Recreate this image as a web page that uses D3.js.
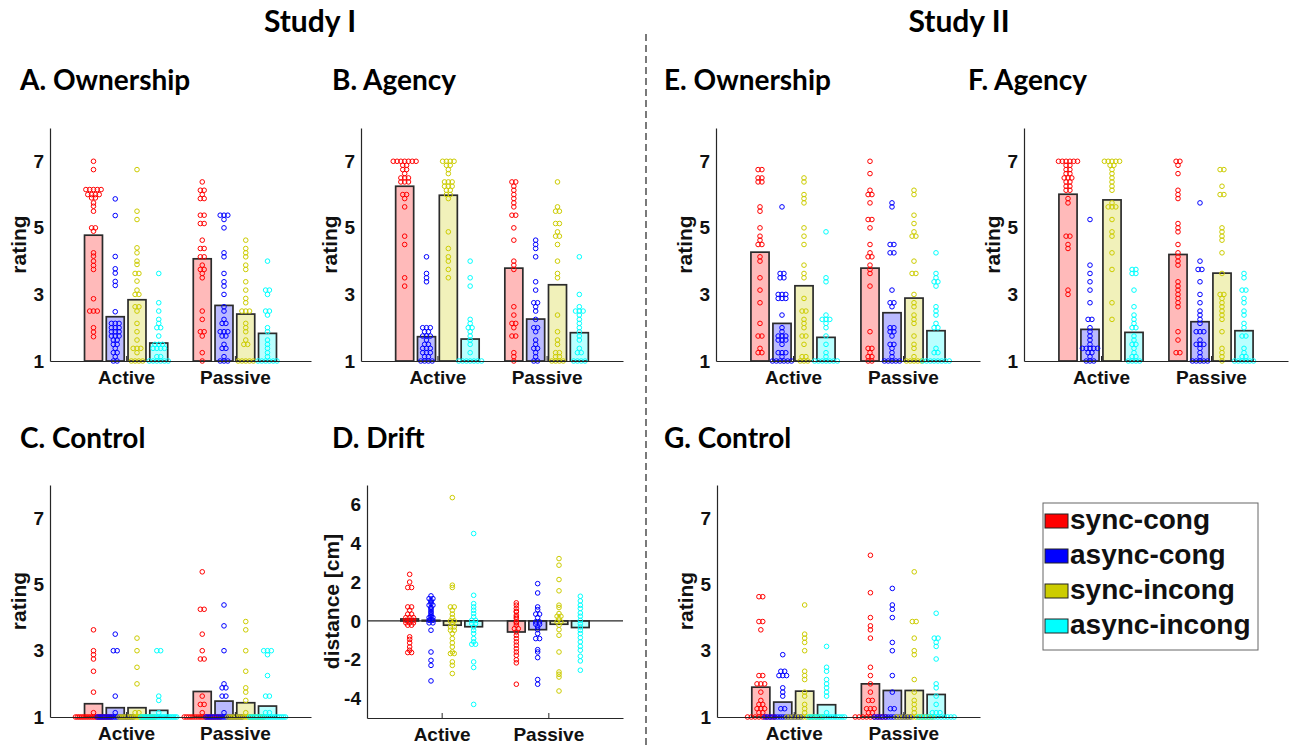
<!DOCTYPE html>
<html>
<head>
<meta charset="utf-8">
<script src="https://cdn.jsdelivr.net/npm/d3@7"></script>
<style>
  body { margin: 0; background: #fff; }
  svg { display: block; }
</style>
</head>
<body>
<div id="chart"></div>
<script>
// ---- data ----
const groupNames = ["Active", "Passive"];
const condNames = ["sync-cong", "async-cong", "sync-incong", "async-incong"];
const condColors = ["#ff0000", "#0000ff", "#cccc00", "#00ffff"];

// A. Ownership (Study I)
const ownIMeans = [[4.78, 2.33, 2.84, 1.54], [4.07, 2.67, 2.41, 1.83]];
const ownIActive = [
  [7, 6.75, 6.15, 6.15, 6.15, 6.15, 6.15, 6, 6, 6, 6, 5.9, 5.9, 5.75, 5.65, 5.5, 5, 5, 4.9, 4.25, 4.15, 4, 3.87, 3.75, 2.87, 2.5, 2.5, 2.5, 2, 1.87, 1.73],
  [5.87, 5.37, 4.14, 3.77, 3.64, 3.39, 3.27, 2.48, 2.13, 2.13, 2.13, 2, 2, 2, 1.88, 1.88, 1.88, 1.75, 1.75, 1.75, 1.63, 1.63, 1.5, 1.5, 1.38, 1.25, 1.25, 1.13, 1, 1],
  [6.75, 5.5, 5.25, 4.4, 4.25, 4, 3.9, 3.63, 3.63, 3.4, 3.13, 3, 3, 2.63, 2.63, 2.5, 2.13, 1.88, 1.63, 1.38, 1.38, 1.38, 1.25, 1, 1, 1, 1],
  [3.63, 2.75, 2.5, 2.25, 2.13, 2, 2, 1.75, 1.5, 1.5, 1.5, 1.38, 1.38, 1.38, 1.38, 1.13, 1.13, 1, 1, 1, 1, 1, 1]
];
const ownIPassive = [
  [6.38, 6.13, 6.13, 6, 5.88, 5.88, 5.38, 5.38, 5.13, 5.13, 4.63, 4.38, 4.38, 4.13, 4.13, 3.88, 3.75, 3.75, 3.63, 3.5, 2.5, 2.25, 1.88, 1.88, 1.75, 1.25, 1],
  [5.38, 5.38, 5.38, 5.25, 5, 4.25, 4.13, 3.63, 3.38, 3.25, 3, 2.63, 2.5, 2.25, 2.13, 2.13, 1.88, 1.88, 1.88, 1.75, 1.75, 1.5, 1.38, 1.38, 1.13, 1, 1, 1],
  [4.63, 4.38, 4.25, 4.13, 3.88, 3.75, 3.38, 3.13, 2.88, 2.75, 2.5, 2.5, 2.5, 2.13, 2, 1.88, 1.63, 1.5, 1.5, 1, 1, 1, 1, 1],
  [4, 3.13, 3.13, 3, 2.5, 2.5, 2.38, 2, 1.88, 1.63, 1.5, 1.38, 1.25, 1.13, 1, 1, 1, 1, 1, 1]
];

// B. Agency (Study I)
const agencyIMeans = [[6.25, 1.73, 5.98, 1.66], [3.79, 2.26, 3.29, 1.85]];
const agencyIActive = [
  [7, 7, 7, 7, 7, 7, 7, 6.88, 6.88, 6.75, 6.75, 6.63, 6.5, 6.5, 6.5, 6.38, 6.38, 6.38, 6, 6, 5.88, 5.63, 4.75, 4.5, 3.5, 3.25],
  [4.13, 3.63, 3.5, 3.38, 2, 2, 2, 1.88, 1.88, 1.75, 1.75, 1.75, 1.63, 1.5, 1.5, 1.38, 1.38, 1.38, 1.25, 1.25, 1.25, 1.13, 1.13, 1, 1, 1, 1],
  [7, 7, 7, 7, 6.88, 6.88, 6.75, 6.63, 6.38, 6.38, 6.38, 6.25, 6.25, 6.25, 6.13, 6.13, 6, 6, 5.88, 4.88, 4.38, 4.13, 4, 3.75, 3.5],
  [4, 3.5, 3.25, 2.25, 2.13, 2, 2, 1.88, 1.75, 1.63, 1.5, 1.25, 1, 1, 1, 1, 1, 1, 1]
];
const agencyIPassive = [
  [6.38, 6.38, 6.25, 6.13, 6, 5.88, 5.75, 5.63, 5.38, 5.38, 5, 4.63, 4, 3.88, 3.75, 2.63, 2.38, 2.13, 2.13, 2, 1.75, 1.75, 1.25, 1.13, 1],
  [4.63, 4.5, 4.38, 4.13, 3.38, 3.13, 2.75, 2.75, 2.63, 2.5, 2.25, 2, 2, 1.88, 1.63, 1.5, 1.38, 1.38, 1.25, 1.13, 1, 1],
  [6.38, 5.63, 5.5, 5.5, 5.13, 5.13, 4.88, 4.75, 4.75, 4.5, 4, 3.63, 3.5, 2.38, 1.88, 1.63, 1.5, 1.25, 1.25, 1.13, 1.13, 1, 1, 1, 1],
  [4.13, 3, 2.63, 2.5, 2.5, 2.5, 2.38, 2.25, 2.13, 2, 1.88, 1.75, 1.63, 1.38, 1.25, 1.25, 1, 1, 1, 1]
];

// C. Control (Study I)
const controlIMeans = [[1.4, 1.28, 1.28, 1.2], [1.77, 1.48, 1.43, 1.33]];
const controlIActive = [
  [3.63, 3, 2.88, 2.75, 2.38, 1.75, 1.13, 1, 1, 1, 1, 1, 1, 1, 1, 1, 1, 1, 1, 1, 1, 1, 1, 1, 1, 1, 1],
  [3.5, 3, 3, 1.63, 1.13, 1, 1, 1, 1, 1, 1, 1, 1, 1, 1, 1, 1, 1, 1, 1, 1, 1, 1, 1, 1, 1],
  [3.38, 3, 2.5, 2, 1.13, 1.13, 1, 1, 1, 1, 1, 1, 1, 1, 1, 1, 1, 1, 1, 1, 1, 1, 1, 1, 1, 1],
  [3, 3, 1.63, 1.5, 1.13, 1, 1, 1, 1, 1, 1, 1, 1, 1, 1, 1, 1, 1, 1, 1, 1, 1, 1, 1, 1, 1, 1]
];
const controlIPassive = [
  [5.38, 4.25, 4.25, 3.5, 3, 2.75, 2.75, 1.63, 1.38, 1.38, 1.13, 1, 1, 1, 1, 1, 1, 1, 1, 1, 1, 1, 1, 1, 1, 1, 1, 1],
  [4.38, 3.75, 3, 2, 1.88, 1.88, 1.63, 1.63, 1.13, 1, 1, 1, 1, 1, 1, 1, 1, 1, 1, 1, 1, 1, 1, 1, 1, 1, 1],
  [3.88, 3.63, 3, 2.38, 1.88, 1.75, 1.5, 1.13, 1, 1, 1, 1, 1, 1, 1, 1, 1, 1, 1, 1, 1, 1, 1, 1, 1, 1, 1],
  [3, 3, 3, 2.88, 2.25, 1.63, 1.63, 1.13, 1.13, 1, 1, 1, 1, 1, 1, 1, 1, 1, 1, 1, 1, 1, 1, 1, 1, 1, 1, 1]
];

// D. Drift (Study I), cm
const driftIMeans = [[0.1, 0.03, -0.22, -0.3], [-0.57, -0.45, -0.17, -0.34]];
const driftIActive = [
  [2.4, 2.0, 1.72, 1.72, 0.72, 0.72, 0.55, 0.35, 0.35, 0.17, 0.17, 0.17, 0.03, 0.03, 0.03, -0.1, -0.1, -0.1, -0.22, -0.22, -0.82, -0.95, -1.13, -1.34, -1.51, -1.63, -1.63],
  [1.29, 1.15, 1.15, 1.05, 0.98, 0.9, 0.81, 0.81, 0.7, 0.64, 0.55, 0.46, 0.38, 0.29, 0.22, 0.17, 0.17, 0.1, 0.03, 0.03, -0.1, -0.1, -0.48, -1.6, -2.03, -2.29, -3.09],
  [6.35, 1.84, 1.72, 0.72, 0.72, 0.55, 0.35, 0.17, 0, 0, -0.14, -0.31, -0.31, -0.48, -0.48, -0.65, -0.91, -1.13, -1.34, -1.6, -1.68, -1.68, -2.11, -2.29, -2.71],
  [4.5, 1.32, 0.89, 0.72, 0.55, 0.38, 0.21, 0.03, 0.03, -0.14, -0.14, -0.31, -0.48, -0.65, -0.91, -1.08, -1.2, -1.2, -2.11, -2.4, -4.3]
];
const driftIPassive = [
  [0.93, 0.81, 0.64, 0.5, 0.46, 0.29, 0.2, 0.12, -0.05, -0.1, -0.22, -0.4, -0.4, -0.57, -0.74, -0.91, -1.08, -1.25, -1.43, -1.6, -1.77, -2.0, -2.16, -3.26],
  [1.92, 1.44, 0.72, 0.58, 0.35, 0.35, 0.17, -0.05, -0.05, -0.17, -0.17, -0.31, -0.45, -0.65, -0.91, -0.91, -1.48, -1.6, -1.89, -3.02, -3.26],
  [3.21, 2.87, 2.13, 1.55, 0.81, 0.69, 0.38, 0.24, 0.24, 0.12, -0.05, -0.05, -0.22, -0.45, -0.74, -1.6, -2.63, -2.75, -2.89, -3.61],
  [1.27, 1.03, 0.81, 0.64, 0.41, 0.24, 0.03, -0.14, -0.31, -0.48, -0.65, -0.86, -1.08, -1.31, -1.51, -1.82, -2.06, -2.54]
];

// E. Ownership (Study II)
const ownIIMeans = [[4.27, 2.13, 3.26, 1.71], [3.79, 2.45, 2.89, 1.91]];
const ownIIActive = [
  [6.75, 6.75, 6.5, 6.5, 6.38, 6.38, 5.63, 5.5, 5, 4.75, 4.63, 4.5, 4.5, 4.13, 4, 3.5, 3.13, 2.75, 2.13, 1.75, 1.75, 1.38, 1.25, 1.25],
  [5.63, 3.63, 3.63, 3.5, 3.5, 3, 3, 3, 2.88, 2.88, 2.88, 2.38, 2, 1.88, 1.75, 1.75, 1.75, 1.63, 1.63, 1.63, 1.5, 1.25, 1.25, 1.25, 1.13, 1, 1, 1, 1, 1, 1],
  [6.5, 6.38, 6, 5.88, 5.75, 5, 4.75, 4.5, 3.88, 3.63, 3.5, 2.88, 2.5, 2.5, 2.25, 2.13, 2, 1.75, 1.75, 1.5, 1.13, 1.13, 1, 1, 1],
  [4.88, 3.5, 3.38, 2.38, 2.25, 2.25, 2.25, 2.13, 2, 1.75, 1.5, 1.25, 1.13, 1, 1, 1, 1, 1, 1, 1]
];
const ownIIPassive = [
  [7, 6.63, 6.13, 6, 6, 5.75, 5.25, 5.25, 5, 4.5, 4.25, 4.13, 4.13, 3.88, 3.75, 3.63, 3.25, 1.88, 1.38, 1.38, 1.25, 1.13, 1.13, 1, 1],
  [5.75, 5.63, 4.5, 4.5, 4.25, 4.25, 3.13, 2.75, 2.75, 2.63, 2, 2, 1.88, 1.88, 1.75, 1.5, 1.5, 1.38, 1.25, 1.13, 1, 1, 1, 1, 1],
  [6.13, 6, 5.38, 5.13, 4.88, 4.75, 4.75, 4, 3.63, 3.63, 3, 2.75, 2.63, 2.38, 2.25, 2.13, 1.75, 1.5, 1.38, 1.13, 1, 1, 1, 1, 1],
  [4.25, 3.63, 3.5, 3.38, 3.38, 3.25, 2.63, 2.5, 2.38, 2.13, 2, 2, 1.38, 1.25, 1.25, 1, 1, 1, 1, 1, 1, 1, 1]
];

// F. Agency (Study II)
const agencyIIMeans = [[6.01, 1.95, 5.84, 1.86], [4.2, 2.18, 3.64, 1.91]];
const agencyIIActive = [
  [7, 7, 7, 7, 7, 7, 6.88, 6.88, 6.75, 6.75, 6.63, 6.63, 6.5, 6.5, 6.5, 6.38, 6.38, 6.25, 6.25, 6.13, 6.13, 5.88, 5.75, 4.75, 4.75, 4.5, 4.38, 3.13, 3],
  [5.25, 3.88, 3.63, 3.38, 3.13, 2.75, 2.25, 2.25, 2, 1.88, 1.75, 1.63, 1.5, 1.38, 1.38, 1.38, 1.38, 1.38, 1.25, 1.25, 1.13, 1, 1, 1],
  [7, 7, 7, 7, 7, 6.88, 6.88, 6.75, 6.63, 6.5, 6.38, 6.25, 6.13, 5.75, 5.63, 5.63, 5.63, 5.25, 4.88, 4.75, 4.25, 3.75, 2.75, 2.25],
  [3.75, 3.75, 3.63, 3.63, 3.13, 2.63, 2.38, 2.25, 2.13, 2, 2, 1.75, 1.63, 1.5, 1.5, 1.38, 1.25, 1.13, 1.13, 1, 1, 1, 1]
];
const agencyIIPassive = [
  [7, 7, 6.88, 6.63, 6.13, 6, 5.88, 5.13, 5, 4.88, 4.5, 4.25, 4.13, 4, 3.88, 3.38, 3.25, 3.13, 3, 2.88, 2.75, 2.63, 1.88, 1.63, 1.25, 1.25],
  [5.75, 4, 3.75, 3.75, 3.38, 3, 2.75, 2.5, 2.38, 2.25, 2.13, 1.88, 1.88, 1.88, 1.63, 1.5, 1.5, 1.5, 1.38, 1.25, 1.13, 1, 1, 1, 1, 1],
  [6.75, 6.75, 6.25, 6, 6, 5, 4.88, 4.75, 4.63, 4.25, 3.63, 3, 3, 2.88, 2.75, 2.63, 2.5, 2.38, 2.25, 1.88, 1.38, 1.25, 1.13, 1],
  [3.63, 3.5, 3.13, 3.13, 2.88, 2.75, 2.5, 2.38, 2.13, 2, 1.75, 1.75, 1.38, 1.25, 1.13, 1.13, 1, 1, 1, 1, 1, 1]
];

// G. Control (Study II)
const controlIIMeans = [[1.9, 1.45, 1.78, 1.37], [2.0, 1.8, 1.8, 1.68]];
const controlIIActive = [
  [4.63, 4.63, 3.88, 3.88, 3.63, 2.25, 2.25, 2, 2, 2, 1.75, 1.5, 1.38, 1.38, 1.25, 1.25, 1.25, 1.13, 1.13, 1, 1, 1, 1, 1, 1, 1, 1],
  [2.88, 2.38, 2.38, 2.25, 2.25, 2.25, 1.88, 1.75, 1.63, 1.25, 1.25, 1, 1, 1, 1, 1, 1, 1, 1, 1, 1, 1, 1, 1, 1, 1],
  [4.38, 3.5, 3.38, 3.25, 3, 2.38, 2.25, 2.13, 1.75, 1.63, 1.38, 1.25, 1.13, 1, 1, 1, 1, 1, 1, 1, 1, 1, 1, 1, 1],
  [3.13, 2.5, 2.38, 2.13, 2, 1.88, 1.75, 1.63, 1.13, 1, 1, 1, 1, 1, 1, 1, 1, 1, 1, 1, 1, 1, 1, 1, 1]
];
const controlIIPassive = [
  [5.88, 4.75, 4, 3.75, 3.63, 3.38, 2.5, 2.25, 2, 1.75, 1.5, 1.5, 1.25, 1.25, 1.25, 1.13, 1.13, 1, 1, 1, 1, 1, 1, 1, 1, 1],
  [4.88, 4.38, 4.25, 4, 3.25, 3, 2.25, 1.75, 1.25, 1.25, 1, 1, 1, 1, 1, 1, 1, 1, 1, 1, 1, 1, 1, 1],
  [5.38, 3.88, 3.88, 3.38, 3, 2.88, 2.13, 1.75, 1.5, 1.38, 1.25, 1.13, 1, 1, 1, 1, 1, 1, 1, 1, 1, 1, 1, 1],
  [4.13, 3.38, 3.38, 3.25, 3.13, 2.75, 2, 1.88, 1.63, 1.38, 1.13, 1.13, 1.13, 1, 1, 1, 1, 1, 1, 1, 1, 1, 1, 1, 1]
];

const ratingTicks = [1, 3, 5, 7];
const driftTicks = [-4, -2, 0, 2, 4, 6];

// ---- layout ----
const width = 1292, height = 745;
const numFont = "'Liberation Sans', Arial, sans-serif";
const titleFont = "Lato, 'Open Sans', sans-serif";
const axisColor = "#262626";

const panels = [
  { title: "A. Ownership", tx: 20, ty: 90, left: 50, right: 311, top: 128, bottom: 361, domain: [1, 8], ticks: ratingTicks, ylab: "rating", means: ownIMeans, pts: [ownIActive, ownIPassive] },
  { title: "B. Agency", tx: 332, ty: 90, left: 361, right: 623, top: 128, bottom: 361, domain: [1, 8], ticks: ratingTicks, ylab: "rating", means: agencyIMeans, pts: [agencyIActive, agencyIPassive] },
  { title: "E. Ownership", tx: 664, ty: 90, left: 716, right: 980, top: 128, bottom: 361, domain: [1, 8], ticks: ratingTicks, ylab: "rating", means: ownIIMeans, pts: [ownIIActive, ownIIPassive] },
  { title: "F. Agency", tx: 968, ty: 90, left: 1024, right: 1288, top: 128, bottom: 361, domain: [1, 8], ticks: ratingTicks, ylab: "rating", means: agencyIIMeans, pts: [agencyIIActive, agencyIIPassive] },
  { title: "C. Control", tx: 20, ty: 448, left: 50, right: 311, top: 485, bottom: 717, domain: [1, 8], ticks: ratingTicks, ylab: "rating", means: controlIMeans, pts: [controlIActive, controlIPassive] },
  { title: "D. Drift", tx: 332, ty: 448, left: 367, right: 623, top: 485, bottom: 718, domain: [-5, 7], ticks: driftTicks, ylab: "distance [cm]", means: driftIMeans, pts: [driftIActive, driftIPassive], zero: true },
  { title: "G. Control", tx: 664, ty: 448, left: 717, right: 980, top: 485, bottom: 717, domain: [1, 8], ticks: ratingTicks, ylab: "rating", means: controlIIMeans, pts: [controlIIActive, controlIIPassive] }
];

const svg = d3.select("#chart").append("svg")
  .attr("width", width).attr("height", height)
  .attr("viewBox", [0, 0, width, height]);

// study headings + divider
svg.append("text").attr("x", 310).attr("y", 32).attr("text-anchor", "middle")
  .attr("font-family", titleFont).attr("font-weight", 700).attr("font-size", 30).text("Study I");
svg.append("text").attr("x", 959).attr("y", 32).attr("text-anchor", "middle")
  .attr("font-family", titleFont).attr("font-weight", 700).attr("font-size", 30).text("Study II");
svg.append("line").attr("x1", 646).attr("x2", 646).attr("y1", 34).attr("y2", 745)
  .attr("stroke", "#333").attr("stroke-width", 1.3).attr("stroke-dasharray", "7,4");

// spread points of equal value sideways, like plotSpread
function spread(vals, y, cx) {
  const out = [];
  d3.groups(vals, v => v).forEach(([v, arr]) => {
    const n = arr.length;
    const step = n > 1 ? Math.min(3.8, 36 / (n - 1)) : 0;
    arr.forEach((_, k) => out.push({ x: cx + (k - (n - 1) / 2) * step, y: y(v) }));
  });
  return out;
}

panels.forEach(p => {
  const g = svg.append("g");
  const x = d3.scaleLinear().domain([0.3, 2.7]).range([p.left, p.right]);
  const y = d3.scaleLinear().domain(p.domain).range([p.bottom, p.top]);
  const barW = x(0.165) - x(0);
  const off = i => (i - 1.5) * 0.2;
  const base = y(Math.max(0, p.domain[0]));

  // title
  g.append("text").attr("x", p.tx).attr("y", p.ty)
    .attr("font-family", titleFont).attr("font-weight", 700).attr("font-size", 28)
    .text(p.title);

  // zero line for drift panel
  if (p.zero) {
    g.append("line").attr("x1", p.left).attr("x2", p.right)
      .attr("y1", y(0)).attr("y2", y(0))
      .attr("stroke", axisColor).attr("stroke-width", 1.2);
  }

  // bars
  const bars = [];
  p.means.forEach((row, gi) => row.forEach((m, ci) => bars.push({ g: gi + 1, c: ci, m })));
  g.append("g").selectAll("rect").data(bars).join("rect")
    .attr("x", d => x(d.g + off(d.c)) - barW / 2)
    .attr("width", barW)
    .attr("y", d => Math.min(y(d.m), base))
    .attr("height", d => Math.abs(base - y(d.m)))
    .attr("fill", d => condColors[d.c]).attr("fill-opacity", 0.27)
    .attr("stroke", "#2b2b2b").attr("stroke-width", 1.7);

  // individual points
  p.pts.forEach((grp, gi) => {
    grp.forEach((vals, ci) => {
      const cx = x(gi + 1 + off(ci));
      g.append("g").selectAll("circle").data(spread(vals, y, cx)).join("circle")
        .attr("cx", d => d.x).attr("cy", d => d.y).attr("r", 2.3)
        .attr("fill", "none").attr("stroke", condColors[ci]).attr("stroke-width", 1);
    });
  });

  // axes
  const ya = g.append("g").attr("transform", `translate(${p.left},0)`)
    .call(d3.axisLeft(y).tickValues(p.ticks).tickFormat(d => String(d)).tickSize(0).tickPadding(6));
  ya.select(".domain").attr("stroke", axisColor).attr("stroke-width", 1.2);
  ya.selectAll("text").attr("font-family", numFont).attr("font-weight", 700)
    .attr("font-size", 19).attr("fill", "#111");

  const xa = g.append("g").attr("transform", `translate(0,${p.bottom})`)
    .call(d3.axisBottom(x).tickValues([1, 2]).tickFormat(i => groupNames[i - 1])
      .tickSizeInner(-5).tickSizeOuter(0).tickPadding(10));
  xa.select(".domain").attr("stroke", axisColor).attr("stroke-width", 1.2);
  xa.selectAll(".tick line").attr("stroke", axisColor);
  xa.selectAll("text").attr("font-family", numFont).attr("font-weight", 700)
    .attr("font-size", 19).attr("fill", "#111");

  // y label
  const ly = (p.top + p.bottom) / 2;
  const lx = p.zero ? p.left - 28 : p.left - 24;
  g.append("text").attr("transform", `translate(${lx},${ly}) rotate(-90)`)
    .attr("text-anchor", "middle")
    .attr("font-family", numFont).attr("font-weight", 700).attr("font-size", 21)
    .attr("fill", "#111").text(p.ylab);
});

// legend
const lg = svg.append("g");
lg.append("rect").attr("x", 1043).attr("y", 503).attr("width", 215).attr("height", 147)
  .attr("fill", "#fff").attr("stroke", "#666").attr("stroke-width", 1);
condNames.forEach((name, i) => {
  const top = 514 + i * 35;
  lg.append("rect").attr("x", 1045).attr("y", top).attr("width", 23).attr("height", 14)
    .attr("fill", condColors[i]).attr("stroke", "#222").attr("stroke-width", 1);
  lg.append("text").attr("x", 1070).attr("y", top + 15)
    .attr("font-family", numFont).attr("font-weight", 700).attr("font-size", 28)
    .attr("fill", "#111").text(name);
});
</script>
</body>
</html>
